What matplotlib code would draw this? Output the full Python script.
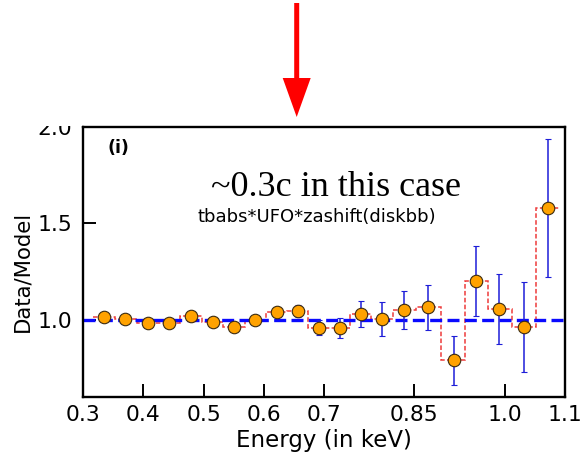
import numpy as np
import matplotlib
matplotlib.use('Agg')
from matplotlib import pyplot as plt
from matplotlib.patches import FancyArrow, Rectangle

# Data/model ratio per energy bin
energy = [0.3345, 0.3705, 0.4072, 0.4433, 0.4788, 0.5150, 0.5512, 0.5862, 0.6212, 0.6562,
          0.6917, 0.7267, 0.7612, 0.7955, 0.8322, 0.8733, 0.9162, 0.9517, 0.9912, 1.0322, 1.0712]
ratio = [1.014, 1.005, 0.983, 0.986, 1.019, 0.988, 0.964, 0.998, 1.042, 1.047,
         0.960, 0.957, 1.031, 1.004, 1.051, 1.066, 0.790, 1.203, 1.056, 0.962, 1.580]
ratio_err = [0.012, 0.012, 0.013, 0.014, 0.015, 0.015, 0.016, 0.017, 0.025, 0.032,
             0.040, 0.052, 0.069, 0.087, 0.100, 0.117, 0.128, 0.182, 0.180, 0.232, 0.360]

xticks = [0.3, 0.4, 0.5, 0.6, 0.7, 0.85, 1.0, 1.1]
xtick_labels = ['0.3', '0.4', '0.5', '0.6', '0.7', '0.85', '1.0', '1.1']
yticks = [1.0, 1.5, 2.0]
ytick_labels = ['1.0', '1.5', '2.0']

fig = plt.figure(figsize=(5.87, 4.54), dpi=100)
ax = fig.add_axes([83/587, 1-397/454, 482/587, 270/454])

# bin edges halfway between the points
x = np.array(energy)
edges = np.concatenate([[x[0] - (x[1]-x[0])/2], (x[1:]+x[:-1])/2, [x[-1] + (x[-1]-x[-2])/2]])
ax.stairs(ratio, edges, baseline=None, color='#ee3b3b', lw=1.1, linestyle=(0, (3, 1.5)), zorder=1)

ax.axhline(1.0, color='#0a0aff', lw=2.4, dashes=(3.6, 1.6), zorder=2)
ax.errorbar(energy, ratio, yerr=ratio_err, fmt='o', color='#1e1ed8', elinewidth=1.1,
            capsize=2.5, capthick=1.1, ms=9, mfc='#ffa200', mec='#3a2a10', mew=0.8, zorder=3)

ax.set_xlim(0.3, 1.1)
ax.set_ylim(0.6, 2.0)
ax.set_xticks(xticks)
ax.set_xticklabels(xtick_labels)
ax.set_yticks(yticks)
ax.set_yticklabels(ytick_labels)
ax.tick_params(axis='both', direction='in', length=9.5, width=1.4, labelsize=15.7)
ax.tick_params(axis='x', pad=6)
ax.tick_params(axis='y', pad=7.5)
for sp in ax.spines.values():
    sp.set_linewidth(1.7)

ax.set_xlabel('Energy (in keV)', fontsize=16.5)
ax.xaxis.set_label_coords(0.5, -0.119)
ax.set_ylabel('Data/Model', fontsize=15.3)
ax.yaxis.set_label_coords(-0.104, 0.465)

ax.text(0.05, 0.922, '(i)', transform=ax.transAxes, fontsize=12.5, fontweight='bold', va='center')
ax.text(336.5/587, 1-196/454, '~0.3c in this case', transform=fig.transFigure, fontsize=26,
        family='Liberation Serif', ha='center', va='baseline')
ax.text(317/587, 1-217/454, 'tbabs*UFO*zashift(diskbb)', transform=fig.transFigure,
        fontsize=13, ha='center', va='center')

# the original crop cuts the top of the "2.0" label
fig.add_artist(Rectangle((0, 1-125.5/454), 82/587, 125.5/454, transform=fig.transFigure,
                         facecolor='white', edgecolor='none', zorder=5))

# red arrow above the panel
fig.add_artist(FancyArrow(296.7/587, 1-3/454, 0, -(114/454), width=5/587, head_width=28/587,
                          head_length=39/454, length_includes_head=True, transform=fig.transFigure,
                          color='#ff0000', lw=0, zorder=6))

fig.savefig('out.png', dpi=100)
